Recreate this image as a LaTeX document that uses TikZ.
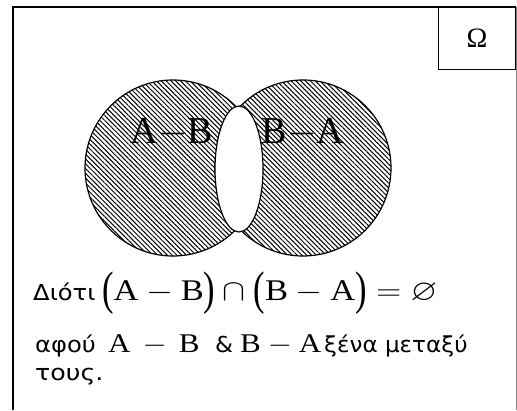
\RequirePackage{fix-cm}
\documentclass[tikz,border=0pt]{standalone}
\usepackage{amsmath,amssymb}
\usepackage{fontspec}
\setmainfont{Liberation Serif}
\usetikzlibrary{patterns.meta,shapes.geometric}
\newfontfamily\grfont{DejaVu Sans}
\newcommand{\wide}[2][1.15]{\scalebox{#1}[1]{#2}}
\newcommand{\tallpar}[1]{\raisebox{-4.5pt}{\scalebox{1}[1.57]{#1}}}

\tikzset{
  hatch/.style={draw,line width=1.2pt,pattern={Lines[angle=-45,distance=3.4pt,line width=1pt]}},
  setlabel/.style={anchor=base,inner sep=0pt,font=\fontsize{38}{38}\selectfont},
  txt/.style={anchor=base west,inner sep=0pt,font=\grfont\fontsize{22}{26}\selectfont},
  eq/.style={anchor=base west,inner sep=0pt,font=\fontsize{27}{30}\selectfont},
}

\begin{document}
\begin{tikzpicture}[x=1pt,y=-1pt]
\useasboundingbox (0,0) rectangle (517,410);
% frame and universe box
\draw[line width=2pt] (13,410)--(13,7)--(516,7);
\draw[gray,line width=1pt] (516,7)--(516,410);
\node[draw,line width=1pt,minimum width=77pt,minimum height=62pt,anchor=north east,font=\fontsize{28}{28}\selectfont] (omega) at (516,7) {Ω};
% the two sets
\node[circle,hatch,minimum size=176pt] (A) at (173,168) {};
\node[circle,hatch,minimum size=176pt] (B) at (303,168) {};
\node[ellipse,draw,line width=1.2pt,fill=white,minimum width=48pt,minimum height=126pt] (AB) at (239,169) {};
\node[setlabel] (amb) at (172,143) {$\mathrm{A}{-}\mathrm{B}$};
\node[setlabel] (bma) at (303,143) {$\mathrm{B}{-}\mathrm{A}$};
% explanation
\node[txt] (l1) at (33,300) {\wide[1.1]{Διότι}};
\node[eq,font=\fontsize{30}{33}\selectfont] (l1eq) at (102,300)
  {\wide{$\tallpar{(}\mathrm{A}-\mathrm{B}\tallpar{)}\cap\tallpar{(}\mathrm{B}-\mathrm{A}\tallpar{)}=\varnothing$}};
\node[txt] (l2) at (35,352) {\wide[1.1]{αφού}};
\node[eq] (l2a) at (108,352) {\wide{$\mathrm{A}\,-\,\mathrm{B}$}};
\node[txt] (l2b) at (215,352) {\wide[1.05]{\&}};
\node[eq] (l2c) at (240,352) {\wide{$\mathrm{B}-\mathrm{A}$}};
\node[txt] (l2d) at (324,352) {\wide[1.05]{ξένα μεταξύ}};
\node[txt] (l3) at (35,380) {\wide{τους.}};
\end{tikzpicture}
\end{document}
